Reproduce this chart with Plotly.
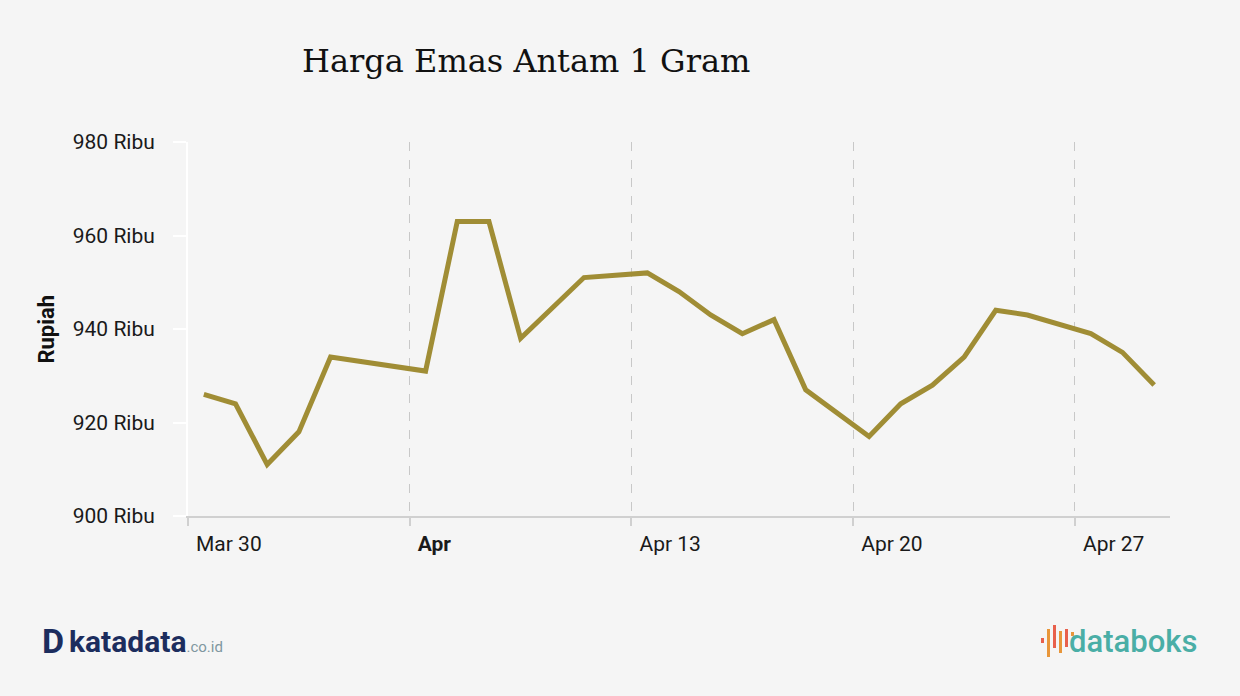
import plotly.graph_objects as go
import pandas as pd

dates = ["2020-03-30", "2020-03-31", "2020-04-01", "2020-04-02", "2020-04-03",
         "2020-04-06", "2020-04-07", "2020-04-08", "2020-04-09", "2020-04-11",
         "2020-04-13", "2020-04-14", "2020-04-15", "2020-04-16", "2020-04-17",
         "2020-04-18", "2020-04-20", "2020-04-21", "2020-04-22", "2020-04-23",
         "2020-04-24", "2020-04-25", "2020-04-27", "2020-04-28", "2020-04-29"]
harga = [926, 924, 911, 918, 934,
         931, 963, 963, 938, 951,
         952, 948, 943, 939, 942,
         927, 917, 924, 928, 934,
         944, 943, 939, 935, 928]

tick_dates = ["2020-03-30", "2020-04-06", "2020-04-13", "2020-04-20", "2020-04-27"]
tick_text = ["Mar 30", "<b>Apr</b>", "Apr 13", "Apr 20", "Apr 27"]
y_ticks = [900, 920, 940, 960, 980]
y_text = ["900 Ribu", "920 Ribu", "940 Ribu", "960 Ribu", "980 Ribu"]

x = pd.to_datetime(dates) + pd.Timedelta(hours=12)

fig = go.Figure()
fig.add_trace(go.Scatter(x=x, y=harga, mode='lines', name='Harga',
                         line=dict(color='#a08d35', width=5),
                         hovertemplate='%{x|%d %b %Y}<br>%{y} Ribu<extra></extra>'))

fig.update_layout(
    width=1240, height=696,
    plot_bgcolor='#f5f5f5', paper_bgcolor='#f5f5f5',
    margin=dict(l=188, r=70, t=142, b=180),
    showlegend=False,
    font=dict(family='Roboto', size=20, color='#1a1a1a'),
)

fig.update_xaxes(range=['2020-03-30', '2020-04-30'],
                 tickvals=tick_dates, ticktext=tick_text,
                 ticklabelposition='outside right', ticklabelshift=6,
                 ticklabelstandoff=8,
                 showgrid=True, gridcolor='#c8c8c8', gridwidth=1, griddash='dash',
                 showline=True, linecolor='#d0d0d0', linewidth=2,
                 ticks='outside', ticklen=8, tickcolor='#d0d0d0', tickwidth=2,
                 zeroline=False, tickfont=dict(size=21, color='#1a1a1a'))

fig.update_yaxes(range=[900, 980], tickvals=y_ticks, ticktext=y_text,
                 showgrid=False, zeroline=False,
                 showline=True, linecolor='white', linewidth=2,
                 ticks='outside', ticklen=13, tickcolor='white', tickwidth=2,
                 ticklabelstandoff=14,
                 tickfont=dict(size=21, color='#1a1a1a'))

fig.add_annotation(text='<b>Rupiah</b>', xref='paper', yref='paper',
                   x=-0.145, y=0.5, textangle=-90, showarrow=False,
                   xanchor='center', yanchor='middle',
                   font=dict(family='Roboto', size=22, color='#111111'))

fig.add_annotation(text='Harga Emas Antam 1 Gram', xref='paper', yref='paper',
                   x=0.114, y=1.217, xanchor='left', yanchor='middle', showarrow=False,
                   font=dict(family='DejaVu Serif', size=32, color='#111111'))

# logo katadata
fig.add_annotation(text='<b>D</b>', xref='paper', yref='paper', x=-0.151, y=-0.335,
                   xanchor='left', yanchor='middle', showarrow=False,
                   font=dict(family='Roboto', size=34, color='#1c2d5e'))
fig.add_annotation(text='<b>katadata</b><span style="font-size:15px;color:#7f97a0">.co.id</span>',
                   xref='paper', yref='paper', x=-0.123, y=-0.335,
                   xanchor='left', yanchor='middle', showarrow=False,
                   font=dict(family='Roboto', size=30, color='#1c2d5e'))

# logo databoks
bar_cols = ['#e8604c', '#e8963a', '#e8604c', '#e8963a', '#e8604c', '#e8963a']
bar_x = [1041, 1047, 1053, 1059, 1065, 1071]
bar_top = [638, 629, 625, 631, 629, 632]
bar_bot = [643, 657, 648, 653, 647, 636]
for c, bx, t, b in zip(bar_cols, bar_x, bar_top, bar_bot):
    fig.add_shape(type='rect', xref='paper', yref='paper',
                  x0=(bx - 188) / 982, x1=(bx + 3 - 188) / 982,
                  y0=(516 - b) / 374, y1=(516 - t) / 374,
                  fillcolor=c, line_width=0)
fig.add_annotation(text='databoks', xref='paper', yref='paper', x=1.03, y=-0.335,
                   xanchor='right', yanchor='middle', showarrow=False,
                   font=dict(family='Roboto', size=31, weight=500, color='#4aaea6'))

fig.write_html("out.html", config={'displayModeBar': False},
               post_script="document.body.style.margin='0';")
